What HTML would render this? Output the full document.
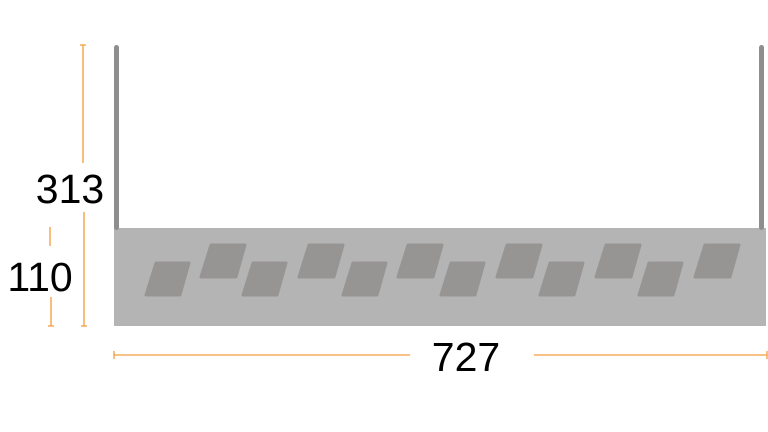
<!DOCTYPE html><html><head><style>body{margin:0;background:#fff}</style></head><body>
<svg width="768" height="432" xmlns="http://www.w3.org/2000/svg" style="display:block">
<rect x="114" y="228" width="652" height="98" fill="#b4b4b4"/>
<rect x="114" y="45" width="5" height="185" rx="2.5" fill="#8e8e8e"/>
<rect x="759" y="45" width="5" height="185" rx="2.5" fill="#8e8e8e"/>
<g fill="#979594" stroke="#979594" stroke-width="3" stroke-linejoin="round">
<path d="M156 263h33l-9 32h-34z"/><path d="M253 263h33l-9 32h-34z"/><path d="M353 263h33l-9 32h-34z"/><path d="M451 263h33l-9 32h-34z"/><path d="M550 263h33l-9 32h-34z"/><path d="M649 263h33l-9 32h-34z"/>
<path d="M211 245h34l-9 32h-35z"/><path d="M309 245h34l-9 32h-35z"/><path d="M408 245h34l-9 32h-35z"/><path d="M507 245h34l-9 32h-35z"/><path d="M606 245h34l-9 32h-35z"/><path d="M705 245h34l-9 32h-35z"/>
</g>
<g stroke="#f39c3c" stroke-width="1.3" fill="none">
<path d="M83 45v118M80 45h6M84 212v114M81 326h6"/>
<path d="M50 227v19M51 297v29M48 326h6"/>
<path d="M114 355h296M114 351v8M534 355h233M767 351v8"/>
</g>
<g font-family="Liberation Sans, sans-serif" font-size="41" fill="#000" text-anchor="middle">
<text x="70" y="203">313</text><text x="40" y="291">110</text><text x="466" y="371">727</text>
</g>
</svg></body></html>
